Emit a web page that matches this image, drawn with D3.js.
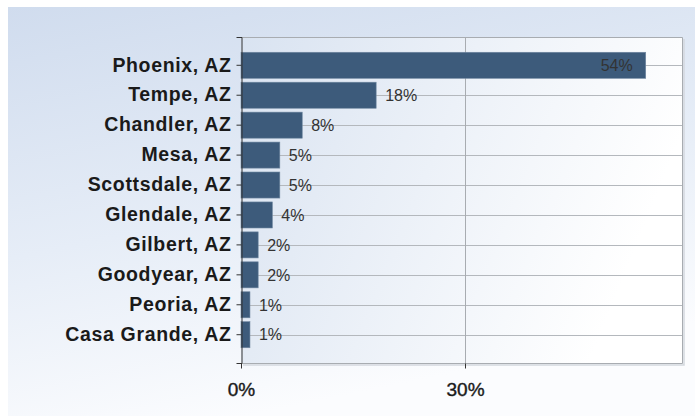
<!DOCTYPE html>
<html>
<head>
<meta charset="utf-8">
<script src="https://cdn.jsdelivr.net/npm/d3@7"></script>
<style>
  body { margin: 0; background: #fff; }
</style>
</head>
<body>
<div id="chart"></div>
<script>
// データ
const cities = ["Phoenix, AZ", "Tempe, AZ", "Chandler, AZ", "Mesa, AZ", "Scottsdale, AZ",
                "Glendale, AZ", "Gilbert, AZ", "Goodyear, AZ", "Peoria, AZ", "Casa Grande, AZ"];
const shares = [54.2, 18.1, 8.2, 5.2, 5.2, 4.2, 2.3, 2.3, 1.2, 1.2];
const share_labels = ["54%", "18%", "8%", "5%", "5%", "4%", "2%", "2%", "1%", "1%"];
const x_ticks = [0, 30];
const x_max = 59.06;

const W = 695, H = 416;
const plot = {left: 241, top: 37, right: 682, bottom: 363};
const font = "'Liberation Sans', Arial, sans-serif";

const svg = d3.select("#chart").append("svg")
    .attr("width", W)
    .attr("height", H);

const defs = svg.append("defs");
// 背景のグラデーション
const bg = defs.append("linearGradient")
    .attr("id", "bg_grad")
    .attr("x1", "0").attr("y1", "0").attr("x2", "0.35").attr("y2", "1");
bg.append("stop").attr("offset", "0").attr("stop-color", "#d0dcee");
bg.append("stop").attr("offset", "0.55").attr("stop-color", "#e6edf7");
bg.append("stop").attr("offset", "1").attr("stop-color", "#fbfcfe");

const pg = defs.append("linearGradient")
    .attr("id", "plot_grad")
    .attr("x1", "0").attr("y1", "0").attr("x2", "1").attr("y2", "0.3");
pg.append("stop").attr("offset", "0").attr("stop-color", "#d9e3f1");
pg.append("stop").attr("offset", "1").attr("stop-color", "#ffffff");

svg.append("rect")
    .attr("x", 8).attr("y", 7)
    .attr("width", W - 8).attr("height", H - 7)
    .attr("fill", "url(#bg_grad)");

// スケール
const x = d3.scaleLinear()
    .domain([0, x_max])
    .range([plot.left, plot.right]);

const y = d3.scaleBand()
    .domain(cities)
    .range([plot.top, plot.bottom])
    .paddingInner(0.13)
    .paddingOuter(0.51);

// プロット領域
svg.append("rect")
    .attr("x", plot.left).attr("y", plot.top)
    .attr("width", plot.right - plot.left).attr("height", plot.bottom - plot.top)
    .attr("fill", "url(#plot_grad)");

// 横グリッド線（カテゴリ中心）
svg.append("g")
    .selectAll("line")
    .data(cities)
    .enter()
    .append("line")
    .attr("x1", plot.left)
    .attr("x2", plot.right)
    .attr("y1", d => Math.round(y(d) + y.bandwidth() / 2) + 0.5)
    .attr("y2", d => Math.round(y(d) + y.bandwidth() / 2) + 0.5)
    .attr("stroke", "#b4b8bd")
    .attr("stroke-width", 1);

// 縦グリッド線
svg.append("g")
    .selectAll("line")
    .data(x_ticks.slice(1))
    .enter()
    .append("line")
    .attr("x1", d => Math.round(x(d)) + 0.5)
    .attr("x2", d => Math.round(x(d)) + 0.5)
    .attr("y1", plot.top)
    .attr("y2", plot.bottom)
    .attr("stroke", "#a8acb1")
    .attr("stroke-width", 1);

// 枠線
svg.append("path")
    .attr("d", `M${plot.left},${plot.top + 0.5}H${plot.right + 0.5}V${plot.bottom + 0.5}H${plot.left}`)
    .attr("fill", "none")
    .attr("stroke", "#a8acb1")
    .attr("stroke-width", 1);
svg.append("path")
    .attr("d", `M${plot.right + 2},${plot.top + 2}V${plot.bottom + 2}H${plot.left + 2}`)
    .attr("fill", "none")
    .attr("stroke", "#d4d8de")
    .attr("stroke-width", 1.5);

// 棒
svg.append("g")
    .selectAll("rect")
    .data(cities)
    .enter()
    .append("rect")
    .attr("x", plot.left)
    .attr("y", d => y(d))
    .attr("width", (d, i) => x(shares[i]) - x(0))
    .attr("height", y.bandwidth())
    .attr("fill", "#3d5b7b")
    .attr("stroke", "#6f87a0")
    .attr("stroke-width", 0.6);

// 数値ラベル
svg.append("g")
    .selectAll("text")
    .data(cities)
    .enter()
    .append("text")
    .attr("x", (d, i) => shares[i] > 40 ? x(shares[i]) - 13 : x(shares[i]) + 9)
    .attr("y", d => y(d) + y.bandwidth() / 2)
    .attr("dy", "0.36em")
    .attr("text-anchor", (d, i) => shares[i] > 40 ? "end" : "start")
    .attr("font-family", font)
    .attr("font-size", 16)
    .attr("fill", "#333")
    .text((d, i) => share_labels[i]);

// 左軸
const y_axis = svg.append("g")
    .attr("transform", `translate(${plot.left + 0.5},0)`)
    .call(d3.axisLeft(y).tickSize(5).tickSizeOuter(5).tickPadding(5));
y_axis.select(".domain").attr("stroke", "#333");
y_axis.selectAll(".tick line").attr("stroke", "#333");
y_axis.selectAll(".tick text")
    .attr("font-family", font)
    .attr("font-size", 19.5)
    .attr("font-weight", "bold")
    .attr("letter-spacing", 0.65)
    .attr("fill", "#1a1a1a");

// 下軸
const x_axis = svg.append("g")
    .attr("transform", `translate(0,${plot.bottom + 0.5})`)
    .call(d3.axisBottom(x).tickValues(x_ticks).tickFormat(d => d + "%").tickSize(5).tickSizeOuter(0).tickPadding(14));
x_axis.select(".domain").remove();
x_axis.selectAll(".tick line").attr("stroke", "#333");
x_axis.selectAll(".tick text")
    .attr("font-family", font)
    .attr("font-size", 19)
    .attr("fill", "#1a1a1a")
    .attr("stroke", "#1a1a1a")
    .attr("stroke-width", 0.4);
</script>
</body>
</html>
